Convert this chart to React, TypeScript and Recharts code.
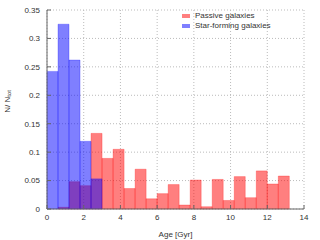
import React from 'react';
import { ComposedChart, Bar, XAxis, YAxis, CartesianGrid, Legend } from 'recharts';

// age bins of 0.6 Gyr, centres
const binCenters = [0.3, 0.9, 1.5, 2.1, 2.7, 3.3, 3.9, 4.5, 5.1, 5.7, 6.3, 6.9, 7.5, 8.1, 8.7, 9.3, 9.9, 10.5, 11.1, 11.7, 12.3, 12.9];
const passive = [0, 0.003, 0.048, 0.041, 0.133, 0.089, 0.105, 0.036, 0.07, 0.018, 0.027, 0.043, 0.007, 0.051, 0.004, 0.052, 0.015, 0.057, 0.02, 0.067, 0.044, 0.058];
const starForming = [0.242, 0.325, 0.262, 0.119, 0.053, 0, 0, 0, 0, 0, 0, 0, 0, 0, 0, 0, 0, 0, 0, 0, 0, 0];

const xTicks = [0, 2, 4, 6, 8, 10, 12, 14];
const yTicks = [0, 0.05, 0.1, 0.15, 0.2, 0.25, 0.3, 0.35];

const data = binCenters.map((x, i) => ({ x, passive: passive[i], sf: starForming[i] }));

const FONT = '"Liberation Sans", Arial, sans-serif';
const FRAME = '#666';

const YLabel = ({ viewBox }: any) => {
  const cx = 7;
  const cy = viewBox.y + viewBox.height / 2 - 8;
  return (
    <text
      x={cx}
      y={cy}
      transform={`rotate(-90 ${cx} ${cy})`}
      textAnchor="middle"
      dominantBaseline="central"
      fontSize={8}
      fill="#333"
      fontFamily={FONT}
    >
      N/ N<tspan fontSize={6} dy={2}>tot</tspan>
    </text>
  );
};

const LegendBox = () => (
  <div style={{ fontFamily: FONT, fontSize: 8, color: '#333', lineHeight: '10px' }}>
    {[
      { name: 'Passive galaxies', color: 'rgba(255,0,0,0.5)' },
      { name: 'Star-forming galaxies', color: 'rgba(0,0,255,0.5)' }
    ].map(item => (
      <div key={item.name} style={{ display: 'flex', alignItems: 'center', height: 10 }}>
        <span style={{ display: 'inline-block', width: 8, height: 4, background: item.color, marginRight: 5 }} />
        {item.name}
      </div>
    ))}
  </div>
);

export default function App() {
  const tickStyle = { fontSize: 8, fill: '#333', fontFamily: FONT };
  return (
    <div style={{ position: 'absolute', left: 0, top: 0, width: 320, height: 240, background: '#fff' }}>
      <ComposedChart width={320} height={240} data={data} margin={{ top: 10, right: 16, left: 0, bottom: 0 }} barCategoryGap={0} barGap={0}>
        <CartesianGrid xAxisId="p" stroke="#bbb" strokeDasharray="1 2" />
        <XAxis
          xAxisId="p"
          dataKey="x"
          type="number"
          domain={[0, 14]}
          ticks={xTicks}
          height={31}
          tickSize={-4}
          tickMargin={9}
          tick={tickStyle}
          axisLine={{ stroke: FRAME }}
          tickLine={{ stroke: FRAME }}
          label={{ value: 'Age [Gyr]', position: 'insideBottom', offset: 3, fontSize: 8, fill: '#333', fontFamily: FONT }}
        />
        <XAxis xAxisId="s" dataKey="x" type="number" domain={[0, 14]} hide />
        <XAxis
          xAxisId="top"
          orientation="top"
          type="number"
          domain={[0, 14]}
          ticks={xTicks}
          height={0}
          tick={false}
          tickSize={-4}
          axisLine={{ stroke: FRAME }}
          tickLine={{ stroke: FRAME }}
        />
        <YAxis
          domain={[0, 0.35]}
          ticks={yTicks}
          width={47}
          tickSize={-4}
          tickMargin={11}
          tick={tickStyle}
          axisLine={{ stroke: FRAME }}
          tickLine={{ stroke: FRAME }}
          label={<YLabel />}
        />
        <YAxis
          yAxisId="r"
          orientation="right"
          domain={[0, 0.35]}
          ticks={yTicks}
          width={0}
          tick={false}
          tickSize={-4}
          axisLine={{ stroke: FRAME }}
          tickLine={{ stroke: FRAME }}
        />
        <Legend
          verticalAlign="middle"
          align="center"
          layout="vertical"
          wrapperStyle={{ top: 11, left: 182, width: 130, height: 20 }}
          content={() => <LegendBox />}
        />
        <Bar xAxisId="p" dataKey="passive" fill="#ff0000" fillOpacity={0.5} stroke="#ff0000" strokeOpacity={0.25} isAnimationActive={false} />
        <Bar xAxisId="s" dataKey="sf" fill="#0000ff" fillOpacity={0.5} stroke="#0000ff" strokeOpacity={0.25} isAnimationActive={false} />
      </ComposedChart>
    </div>
  );
}
